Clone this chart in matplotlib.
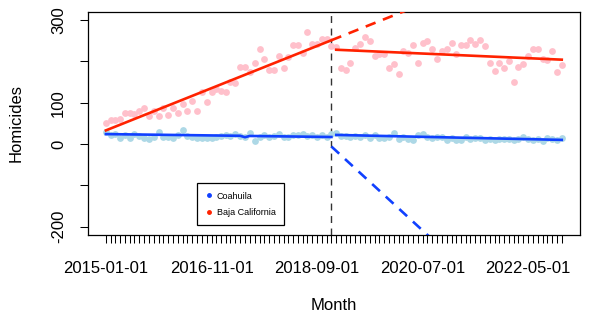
import numpy as np
import pandas as pd
import matplotlib
matplotlib.use('Agg')
import matplotlib.pyplot as plt
import matplotlib.dates as mdates
from matplotlib.lines import Line2D

###############################################################################

# monthly homicides, 2015-01 .. 2022-12
months = pd.date_range('2015-01-01', periods=96, freq='MS')

baja = [51, 57, 59, 61, 76, 76, 72, 79, 86, 68, 80, 68, 87, 71, 88, 76,
        98, 81, 105, 81, 126, 101, 125,
        133, 129, 125, 151, 147, 186, 186, 175, 197, 229, 205, 178, 178,
        213, 183, 210, 240, 240, 221, 272, 242, 243, 255, 254,
        236, 235,
        184, 180, 195, 232, 241, 260, 248, 213, 217, 217, 185, 194, 170,
        224, 221, 240, 197, 245, 250, 229, 206, 225, 229,
        244, 217, 240, 240, 252, 241, 252, 236, 196, 177, 196, 183, 201,
        150, 187, 194, 214, 230, 229, 205, 204, 224, 175, 191]

coahuila = [28, 22, 24, 15, 22, 14, 24, 19, 14, 11,
            17, 28, 17, 17, 15, 22, 34, 19, 17, 15,
            14, 15, 15, 18, 19, 22, 19, 24, 19, 18,
            26, 7, 17, 22, 17, 19, 24, 17, 17, 22,
            22, 24, 19, 22, 17, 22, 17, 24,
            27, 19, 19, 17, 19, 17, 22, 14, 22, 14,
            14, 17, 26, 12, 17, 12, 10, 22, 24, 17,
            14, 17, 18, 10, 14, 10, 10, 17, 11, 14,
            14, 10, 12, 10, 12, 11, 11, 10, 12, 17,
            12, 10, 12, 7, 14, 11, 10, 14]

# fitted segments (month index, value)
baja_pre_idx, baja_pre_fit = [0, 47], [33, 251]
baja_post_idx, baja_post_fit = [48, 95], [228, 204]
baja_cf_idx, baja_cf_fit = [47, 95], [251, 473]
coah_pre_idx, coah_pre_fit = [0, 28, 29, 30, 47], [24, 19.9, 16.5, 19.5, 17]
coah_post_idx, coah_post_fit = [48, 95], [22, 10]
coah_cf_idx, coah_cf_fit = [47, 95], [-6, -519]

intervention = 47
label_every = 22

###############################################################################

if __name__ == "__main__":

    plt.rcParams['font.family'] = ['Liberation Sans', 'DejaVu Sans']

    fig = plt.figure(figsize=(5.89, 3.20), dpi=100)
    fig.subplots_adjust(left=87.7 / 589, right=580 / 589,
                        top=1 - 11.7 / 320, bottom=1 - 235 / 320)
    ax = fig.add_subplot(111)

    ax.scatter(months, baja, s=24, color='#FFC0CB', linewidths=0, zorder=2)
    ax.scatter(months, coahuila, s=24, color='#ADD8E6', linewidths=0,
               zorder=2)

    red = '#ff2200'
    blue = '#1040ff'
    ax.plot(months[baja_pre_idx], baja_pre_fit, color=red, lw=1.9, zorder=3)
    ax.plot(months[baja_post_idx], baja_post_fit, color=red, lw=1.9, zorder=3)
    ax.plot(months[baja_cf_idx], baja_cf_fit, color=red, lw=1.9,
            dashes=(4, 3), zorder=3)
    ax.plot(months[coah_pre_idx], coah_pre_fit, color=blue, lw=1.9, zorder=3)
    ax.plot(months[coah_post_idx], coah_post_fit, color=blue, lw=1.9,
            zorder=3)
    ax.plot(months[coah_cf_idx], coah_cf_fit, color=blue, lw=1.9,
            dashes=(4, 3), zorder=3)

    ax.axvline(months[intervention], color='#333333', lw=1, dashes=(5, 4),
               zorder=1)

    # R style limits (4% padding)
    x0, x1 = mdates.date2num(months[0]), mdates.date2num(months[-1])
    pad = 0.04 * (x1 - x0)
    ax.set_xlim(x0 - pad, x1 + pad)
    ax.set_ylim(-220, 320)

    ax.set_xticks(months)
    ax.set_xticklabels([m.strftime('%Y-%m-%d') if i % label_every == 0 else ''
                        for i, m in enumerate(months)], fontsize=12)
    ax.set_yticks([-200, -100, 0, 100, 200, 300])
    ax.set_yticklabels(['-200', '', '0', '100', '', '300'], fontsize=12,
                       rotation=90, va='center')
    ax.tick_params(axis='x', length=5.5, width=0.75, pad=13)
    ax.tick_params(axis='y', length=5.5, width=0.75, pad=10)
    for sp in ax.spines.values():
        sp.set_linewidth(0.9)

    ax.set_xlabel('Month', fontsize=12, va='center')
    ax.xaxis.set_label_coords(0.5, -0.3135)
    ax.set_ylabel('Homicides', fontsize=12, va='center')
    ax.yaxis.set_label_coords(-0.1446, 0.5)

    handles = [Line2D([], [], marker='o', ls='', color=blue, markersize=2.5),
               Line2D([], [], marker='o', ls='', color=red, markersize=2.5)]
    leg = ax.legend(handles, ['Coahuila', 'Baja California'], fontsize=6.5,
                    loc='lower left', bbox_to_anchor=(0.222, 0.045),
                    borderaxespad=0, fancybox=False, framealpha=1,
                    edgecolor='black', handlelength=0.8, handletextpad=0.5,
                    borderpad=0.9, labelspacing=0.8)
    leg.get_frame().set_linewidth(0.9)

    plt.savefig('out.png', dpi=100)
